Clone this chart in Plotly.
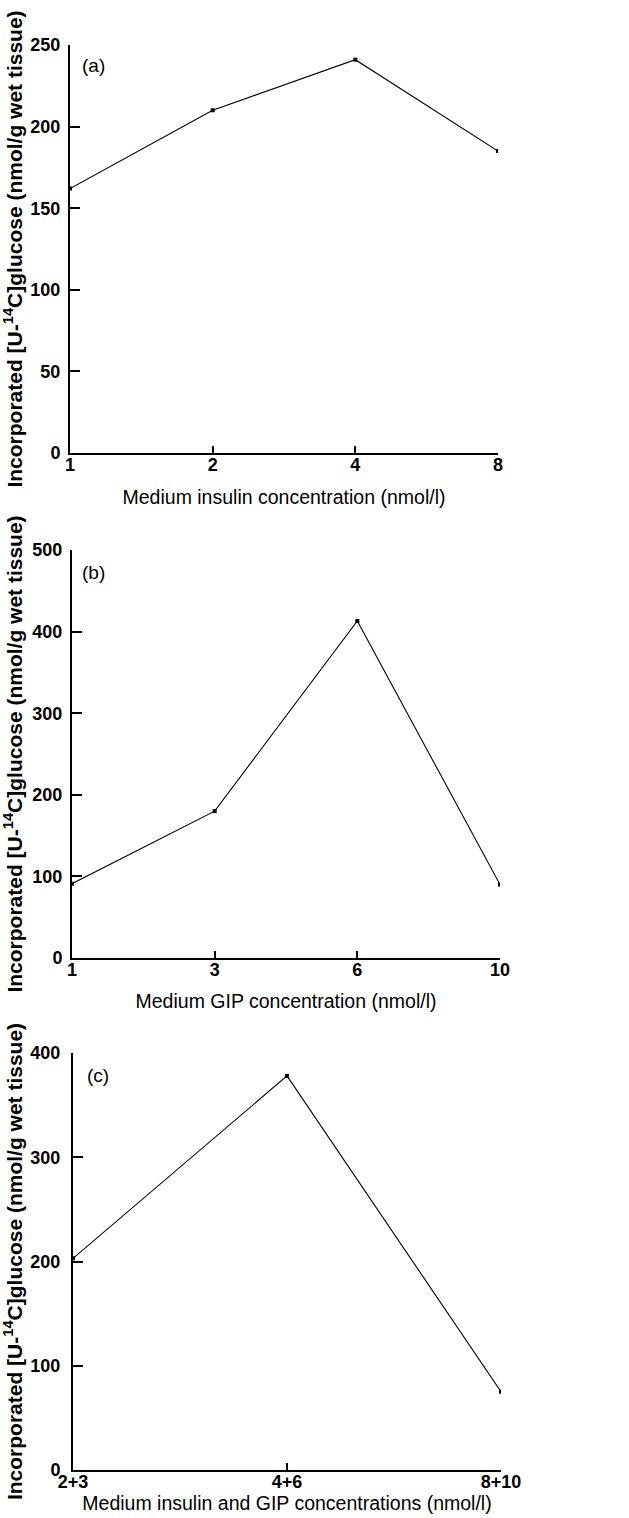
import plotly.graph_objects as go

# ---- data ----
a_labels = ["1", "2", "4", "8"]
a_values = [162, 210, 241, 185]
b_labels = ["1", "3", "6", "10"]
b_values = [91, 180, 413, 90]
c_labels = ["2+3", "4+6", "8+10"]
c_values = [203, 378, 75]

panel_names = ["(a)", "(b)", "(c)"]
x_titles = ["Medium insulin concentration (nmol/l)",
            "Medium GIP concentration (nmol/l)",
            "Medium insulin and GIP concentrations (nmol/l)"]
y_title = "Incorporated [U-<sup>14</sup>C]glucose (nmol/g wet tissue)"
y_ranges = [[0, 250], [0, 500], [0, 400]]
y_dticks = [50, 100, 100]

W, H = 629, 1518
FONT = "Liberation Sans, Arial, Helvetica, sans-serif"

# pixel layout of each panel: (x_left, x_right, y_top, y_bottom)
boxes = [(70, 498, 45, 453), (72, 500, 550, 958), (73, 501, 1053, 1470)]
label_pos = [(80, 65), (80, 572), (85, 1075)]
x_title_standoff = [17, 16, 0]
y_label_standoff = [4, 4, 7]
y_title_standoff = [5, 5, 2]

fig = go.Figure()
datasets = [(a_labels, a_values), (b_labels, b_values), (c_labels, c_values)]

for i, (labels, values) in enumerate(datasets):
    n = i + 1
    xs = "x" if n == 1 else f"x{n}"
    ys = "y" if n == 1 else f"y{n}"
    fig.add_trace(go.Scatter(
        x=list(range(len(labels))), y=values, xaxis=xs, yaxis=ys,
        mode="lines+markers",
        line=dict(color="black", width=1.1),
        marker=dict(symbol="square", size=4, color="black"),
        showlegend=False, hoverinfo="skip"))
    x0, x1, yt, yb = boxes[i]
    xkey = "xaxis" if n == 1 else f"xaxis{n}"
    ykey = "yaxis" if n == 1 else f"yaxis{n}"
    fig.update_layout(**{
        xkey: dict(
            domain=[x0 / W, x1 / W], anchor=ys,
            range=[0, len(labels) - 1],
            tickmode="array", tickvals=list(range(len(labels))), ticktext=labels,
            ticks="inside", ticklen=7, tickwidth=1.5, tickcolor="black",
            showline=True, linecolor="black", linewidth=2,
            showgrid=False, zeroline=False,
            ticklabelstandoff=-6,
            tickfont=dict(family=FONT, size=18, color="black", weight="bold"),
            title=dict(text=x_titles[i], standoff=x_title_standoff[i],
                       font=dict(family=FONT, size=19.5, color="black")),
            automargin=False),
        ykey: dict(
            domain=[1 - yb / H, 1 - yt / H], anchor=xs,
            range=y_ranges[i], dtick=y_dticks[i], tick0=0,
            ticks="inside", ticklen=10, tickwidth=1.5, tickcolor="black",
            showline=True, linecolor="black", linewidth=2,
            showgrid=False, zeroline=False,
            ticklabelstandoff=y_label_standoff[i],
            tickfont=dict(family=FONT, size=18, color="black", weight="bold"),
            title=dict(text=y_title, standoff=y_title_standoff[i],
                       font=dict(family=FONT, size=21, color="black", weight="bold")),
            automargin=False),
    })
    lx, ly = label_pos[i]
    fig.add_annotation(text=panel_names[i], xref="paper", yref="paper",
                       x=lx / W, y=1 - ly / H, xanchor="left", yanchor="middle",
                       showarrow=False,
                       font=dict(family=FONT, size=19, color="black"))

fig.update_layout(width=W, height=H, margin=dict(l=0, r=0, t=0, b=0),
                  paper_bgcolor="white", plot_bgcolor="white")

fig.write_html("out.html", config={"displayModeBar": False},
               post_script="document.body.style.margin='0';")
